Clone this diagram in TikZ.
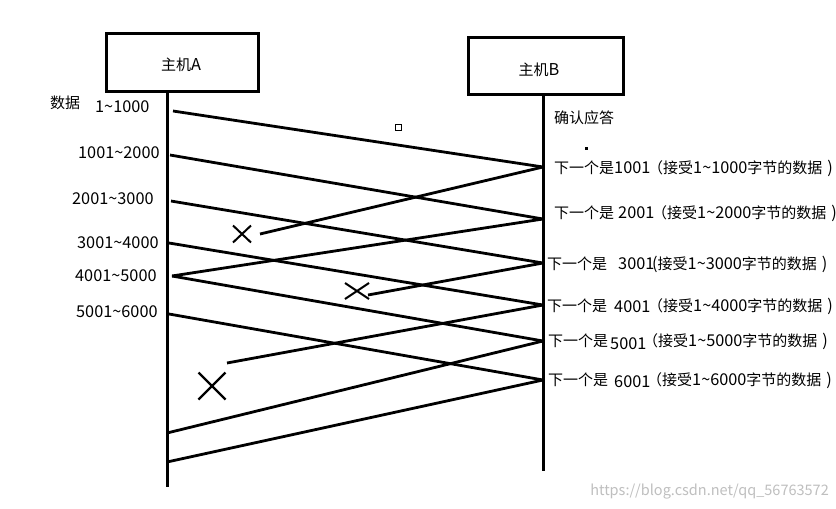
\documentclass[tikz,border=0pt]{standalone}
\usepackage{fontspec}
\usetikzlibrary{calc}
\setmainfont{Noto Sans CJK SC}
\newcommand{\mydg}[1]{{\fontsize{16.3}{16}\selectfont #1}}
\newcommand{\myrp}{\hspace{5pt}\mydg{)}}
\begin{document}
\begin{tikzpicture}[x=1pt,y=-1pt,
  txt/.style={inner sep=0pt, font=\fontsize{15}{15}\selectfont},
  hostbox/.style={draw, line width=3pt, minimum width=152pt, minimum height=58pt, inner sep=0pt},
  msg/.style={line width=2.8pt},
  life/.style={line width=3pt},
  cross/.style={line width=2pt}]
\useasboundingbox (0,0) rectangle (836,509);
\fill[white] (0,0) rectangle (836,509);

% hosts
\node[hostbox] (boxA) at (182,62) {};
\node[hostbox, minimum width=155pt, minimum height=57pt] (boxB) at (545.5,65.5) {};
\node[txt] (labA) at (181,65) {主机\mydg{A}};
\node[txt] (labB) at (539,70) {主机\mydg{B}};

% lifelines
\coordinate (Atop) at (167,91);
\coordinate (Abot) at (167,487);
\coordinate (Btop) at (543,94);
\coordinate (Bbot) at (543,471);
\draw[life] (Atop) -- (Abot);
\draw[life] (Btop) -- (Bbot);

% left labels
\node[txt] (shuju) at (65,103) {数据};
\node[txt, anchor=west] (d1) at (95,107) {\mydg{1\char"7E 1000}};
\node[txt, anchor=west] (d2) at (78,153) {\mydg{1001\char"7E 2000}};
\node[txt, anchor=west] (d3) at (72,199) {\mydg{2001\char"7E 3000}};
\node[txt, anchor=west] (d4) at (77,243) {\mydg{3001\char"7E 4000}};
\node[txt, anchor=west] (d5) at (75,276) {\mydg{4001\char"7E 5000}};
\node[txt, anchor=west] (d6) at (76,312) {\mydg{5001\char"7E 6000}};

% right labels
\node[txt, anchor=west] (queren) at (554,118) {确认应答};
\node[txt, anchor=west] (p1) at (554,168) {下一个是};
\node[txt, anchor=west] (n1) at (614,168) {\mydg{1001}};
\node[txt, anchor=west] (r1) at (648,168) {（接受\mydg{1\char"7E 1000}字节的数据\myrp};
\node[txt, anchor=west] (p2) at (554,213) {下一个是};
\node[txt, anchor=west] (n2) at (618,213) {\mydg{2001}};
\node[txt, anchor=west] (r2) at (652,213) {（接受\mydg{1\char"7E 2000}字节的数据\myrp};
\node[txt, anchor=west] (p3) at (547,264) {下一个是};
\node[txt, anchor=west] (n3) at (618,264) {\mydg{3001}};
\node[txt, anchor=west] (r3) at (652,264) {\mydg{(}接受\mydg{1\char"7E 3000}字节的数据\myrp};
\node[txt, anchor=west] (p4) at (547,306) {下一个是};
\node[txt, anchor=west] (n4) at (614,307) {\mydg{4001}};
\node[txt, anchor=west] (r4) at (648,306) {（接受\mydg{1\char"7E 4000}字节的数据\myrp};
\node[txt, anchor=west] (p5) at (548,341) {下一个是};
\node[txt, anchor=west] (n5) at (610,344) {\mydg{5001}};
\node[txt, anchor=west] (r5) at (643,341) {（接受\mydg{1\char"7E 5000}字节的数据\myrp};
\node[txt, anchor=west] (p6) at (548,380) {下一个是};
\node[txt, anchor=west] (n6) at (614,382) {\mydg{6001}};
\node[txt, anchor=west] (r6) at (647,380) {（接受\mydg{1\char"7E 6000}字节的数据\myrp};

% endpoints
\coordinate (a1) at (173,111);
\coordinate (a2) at (170,155);
\coordinate (a3) at (171,201);
\coordinate (a4) at (169,243);
\coordinate (a5) at (172,276);
\coordinate (a6) at (169,314);
\coordinate (b1) at (543,167);
\coordinate (b2) at (543,219);
\coordinate (b3) at (543,263);
\coordinate (b4) at (543,305);
\coordinate (b5) at (543,341);
\coordinate (b6) at (543,380);
\coordinate (e1) at (260,234);
\coordinate (e3) at (368,295);
\coordinate (e4) at (227,363);
\coordinate (e5) at (167,433);
\coordinate (e6) at (167,462);

% data segments
\draw[msg] (a1) -- (b1);
\draw[msg] (a2) -- (b2);
\draw[msg] (a3) -- (b3);
\draw[msg] (a4) -- (b4);
\draw[msg] (a5) -- (b5);
\draw[msg] (a6) -- (b6);

% acks
\draw[msg] (b1) -- (e1);
\draw[msg] (b2) -- (a5);
\draw[msg] (b3) -- (e3);
\draw[msg] (b4) -- (e4);
\draw[msg] (b5) -- (e5);
\draw[msg] (b6) -- (e6);

% crosses
\coordinate (x1) at (242,234);
\coordinate (x2) at (357,291);
\coordinate (x3) at (212,386);
\draw[cross] ($(x1)+(-9,-8.5)$) -- ($(x1)+(9,8.5)$) ($(x1)+(-9,8.5)$) -- ($(x1)+(9,-8.5)$);
\draw[cross] ($(x2)+(-12,-8)$) -- ($(x2)+(12,8)$) ($(x2)+(-12,8)$) -- ($(x2)+(12,-8)$);
\draw[cross, line width=2.4pt] ($(x3)+(-13.5,-13.5)$) -- ($(x3)+(13.5,13.5)$) ($(x3)+(-13.5,13.5)$) -- ($(x3)+(13.5,-13.5)$);

% stray marks
\draw[line width=1pt] (395,124) rectangle (401,130);
\fill (584.5,146.5) rectangle (587.5,149.5);

% watermark
\node[txt, font=\fontsize{14.5}{14}\selectfont, text=black!25, anchor=east] (wm) at (829,492) {https://blog.csdn.net/qq\_56763572};
\end{tikzpicture}
\end{document}
